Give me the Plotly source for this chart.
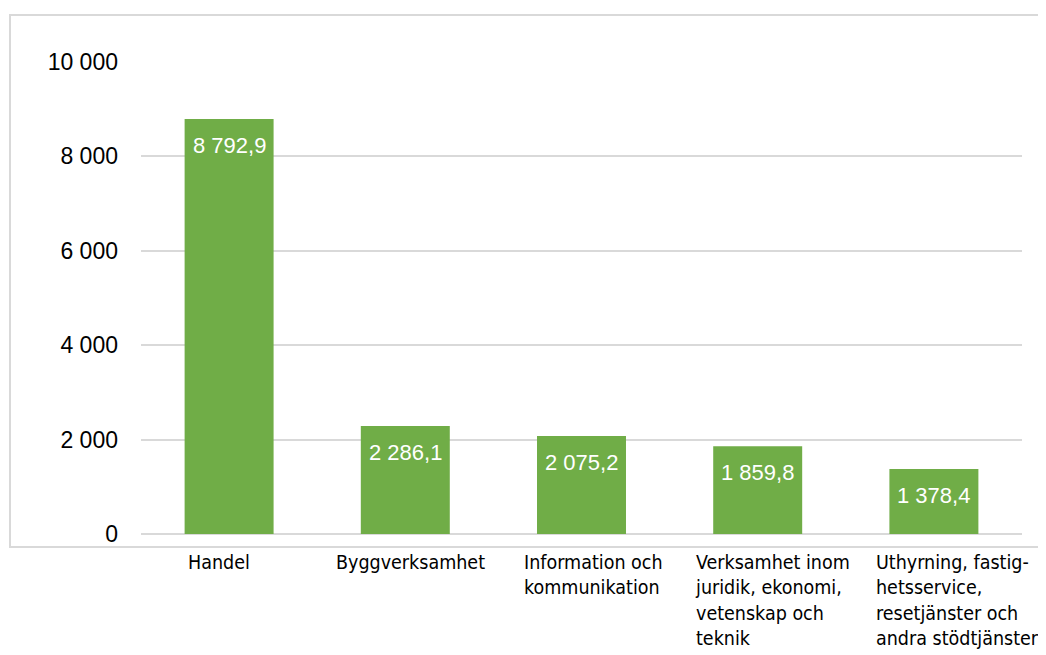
import plotly.graph_objects as go

# categories (wrapped like in the source chart) and values
categories = ["Handel", "Byggverksamhet", "Information och kommunikation",
              "Verksamhet inom juridik, ekonomi, vetenskap och teknik",
              "Uthyrning, fastighetsservice, resetjänster och andra stödtjänster"]
category_labels = ["Handel",
                   "Byggverksamhet",
                   "Information och<br>kommunikation",
                   "Verksamhet inom<br>juridik, ekonomi,<br>vetenskap och<br>teknik",
                   "Uthyrning, fastig-<br>hetsservice,<br>resetjänster och<br>andra stödtjänster"]
values = [8792.9, 2286.1, 2075.2, 1859.8, 1378.4]
y_ticks = [0, 2000, 4000, 6000, 8000, 10000]

# small horizontal nudges (px) so the wrapped labels sit like in excel
label_nudge = [-10, 5, 12, 15, 24]


# swedish number format: space as thousands sep, comma as decimal
def sv(v):
    return f"{v:,.1f}".replace(",", " ").replace(".", ",")


fig = go.Figure()
fig.add_trace(go.Bar(x=categories, y=values, marker_color="#70ad47",
                     marker_line_width=0, hoverinfo="skip"))

# value labels inside the top of each bar
for c, v in zip(categories, values):
    fig.add_annotation(x=c, y=v, text=sv(v), showarrow=False, yanchor="top",
                       yshift=-12, font=dict(family="Liberation Sans, Arial", size=22, color="white"))

# category labels, left aligned lines like in excel
for c, lab, dx in zip(categories, category_labels, label_nudge):
    fig.add_annotation(x=c, y=-0.032, xref="x", yref="paper", text=lab, showarrow=False,
                       xanchor="center", yanchor="top", align="left", xshift=dx,
                       font=dict(family="Liberation Sans Narrow, Arial Narrow, DejaVu Sans Condensed",
                                 size=19.5, color="black"))

# chart area border
fig.add_shape(type="rect", xref="paper", yref="paper", x0=-0.1487, x1=1.0238, y0=-0.0275, y1=1.0996,
              line=dict(color="#d9d9d9", width=2), layer="below")

# page body has 8px margin, so margins are shifted by 8px
fig.update_layout(
    width=1046, height=655,
    margin=dict(l=133, r=32, t=54, b=129),
    plot_bgcolor="white", paper_bgcolor="white",
    separators=", ",
    bargap=0.495,
    showlegend=False,
    font=dict(family="Liberation Sans, Arial", size=23, color="black"),
)
fig.update_xaxes(range=[-0.5, len(categories) - 0.5], showticklabels=False,
                 showgrid=False, zeroline=False, showline=False)
fig.update_yaxes(range=[0, 10000], tickvals=y_ticks, tickformat=",.0f",
                 showgrid=True, gridcolor="#d9d9d9", gridwidth=1.5,
                 zeroline=True, zerolinecolor="#d9d9d9", zerolinewidth=1.5,
                 showline=False, ticklabelstandoff=22)

fig.write_html("out.html")
